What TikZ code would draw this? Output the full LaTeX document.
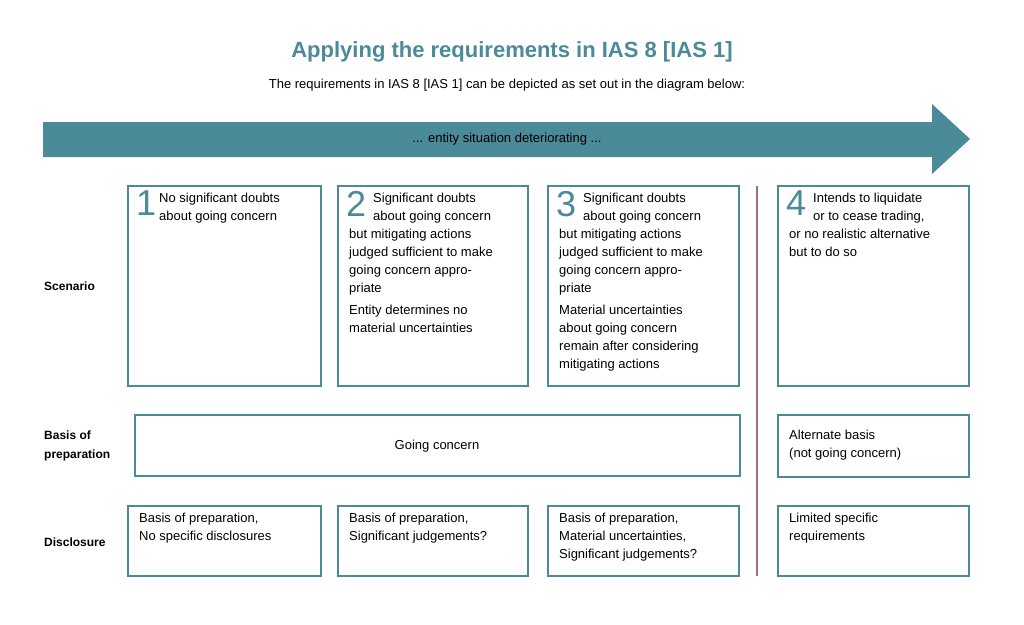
\documentclass[tikz,border=0pt]{standalone}
\usepackage{fontspec}
\setmainfont{Liberation Sans}
\begin{document}
\begin{tikzpicture}[x=1pt,y=-1pt,
  teal/.style={},
  box/.style={draw=tealc,line width=2pt,fill=white},
  txt/.style={anchor=north west,inner sep=0pt,align=left,font=\fontsize{13}{18}\selectfont},
  num/.style={anchor=north west,inner sep=0pt,text=tealc,font=\fontsize{36}{36}\selectfont},
  lab/.style={anchor=west,inner sep=0pt,align=left,font=\bfseries\fontsize{12}{19}\selectfont}]
\definecolor{tealc}{HTML}{4A8A99}
\definecolor{mauve}{HTML}{A86A83}
\useasboundingbox (0,0) rectangle (1024,624);
\fill[white] (0,0) rectangle (1024,624);
\node[text=tealc,font=\bfseries\fontsize{22}{24}\selectfont] (title) at (512,52) {Applying the requirements in IAS 8 [IAS 1]};
\node[font=\fontsize{13}{16}\selectfont] (sub) at (507,85) {The requirements in IAS 8 [IAS 1] can be depicted as set out in the diagram below:};
\fill[tealc] (43,122) -- (932,122) -- (932,104) -- (970,139) -- (932,174) -- (932,157) -- (43,157) -- cycle;
\node[text=black,font=\fontsize{13}{16}\selectfont] (arr) at (507,139) {... entity situation deteriorating ...};
\draw[mauve,line width=2pt] (757,186) -- (757,576);
% scenario
\draw[box] (128,186) rectangle (321,386);
\draw[box] (338,186) rectangle (528,386);
\draw[box] (548,186) rectangle (739,386);
\draw[box] (778,186) rectangle (969,386);
\node[num] (n1) at (136,191) {1};
\node[num] (n2) at (346,191) {2};
\node[num] (n3) at (556,191) {3};
\node[num] (n4) at (786,191) {4};
\node[txt] (t1) at (159,193) {No significant doubts\\about going concern};
\node[txt] (t2a) at (373,193) {Significant doubts\\about going concern};
\node[txt] (t2b) at (349,229) {but mitigating actions\\judged sufficient to make\\going concern appro-\\priate};
\node[txt] (t2c) at (349,305) {Entity determines no\\material uncertainties};
\node[txt] (t3a) at (583,193) {Significant doubts\\about going concern};
\node[txt] (t3b) at (559,229) {but mitigating actions\\judged sufficient to make\\going concern appro-\\priate};
\node[txt] (t3c) at (559,305) {Material uncertainties\\about going concern\\remain after considering\\mitigating actions};
\node[txt] (t4a) at (813,193) {Intends to liquidate\\or to cease trading,};
\node[txt] (t4b) at (789,229) {or no realistic alternative\\but to do so};
% basis
\draw[box] (135,415) rectangle (740,476);
\draw[box] (778,415) rectangle (969,477);
\node[font=\fontsize{13}{16}\selectfont] (gc) at (437,446) {Going concern};
\node[txt] (ab) at (789,430) {Alternate basis\\(not going concern)};
% disclosure
\draw[box] (128,506) rectangle (321,576);
\draw[box] (338,506) rectangle (528,576);
\draw[box] (548,506) rectangle (739,576);
\draw[box] (778,506) rectangle (969,576);
\node[txt] (d1) at (139,513) {Basis of preparation,\\No specific disclosures};
\node[txt] (d2) at (349,513) {Basis of preparation,\\Significant judgements?};
\node[txt] (d3) at (559,513) {Basis of preparation,\\Material uncertainties,\\Significant judgements?};
\node[txt] (d4) at (789,513) {Limited specific\\requirements};
% labels
\node[lab] (l1) at (44,286) {Scenario};
\node[lab] (l2) at (44,446) {Basis of\\preparation};
\node[lab] (l3) at (44,542) {Disclosure};
\end{tikzpicture}
\end{document}
